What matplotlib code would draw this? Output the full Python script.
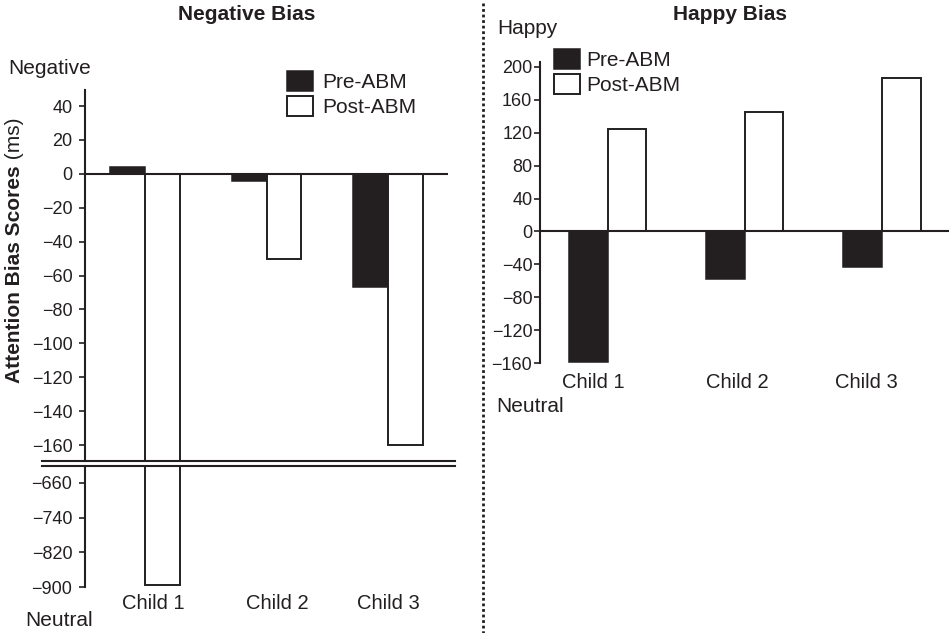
import numpy as np
import matplotlib
matplotlib.use('Agg')
import matplotlib.pyplot as plt
from matplotlib.lines import Line2D
from matplotlib.transforms import ScaledTranslation

plt.rcParams['font.family'] = ['Liberation Sans', 'DejaVu Sans']

# Data
children = ['Child 1', 'Child 2', 'Child 3']
neg_pre = [4, -4, -67]
neg_post = [-896, -50, -160]
happy_pre = [-159, -58, -43]
happy_post = [124, 145, 187]

neg_ticks_up = [40, 20, 0, -20, -40, -60, -80, -100, -120, -140, -160]
neg_ticks_low = [-660, -740, -820, -900]
happy_ticks = [200, 160, 120, 80, 40, 0, -40, -80, -120, -160]

ink = '#231f20'
W, H = 949, 633
fig = plt.figure(figsize=(W / 100, H / 100), dpi=100)


def px_axes(x0, y0, x1, y1):
    # box given in pixels, y measured from the top
    return fig.add_axes([x0 / W, 1 - y1 / H, (x1 - x0) / W, (y1 - y0) / H])


def fig_xy(x, y):
    return x / W, 1 - y / H


def style(ax, lw=1.5):
    for s in ['top', 'right', 'bottom']:
        ax.spines[s].set_visible(False)
    ax.spines['left'].set_linewidth(lw)
    ax.spines['left'].set_color(ink)
    ax.tick_params(axis='y', direction='out', length=4, width=1.2,
                   color=ink, labelcolor=ink, labelsize=13)


def nudge_labels(ax, shifts):
    # the printed category labels sit a little off the bar groups
    for lab, dx in zip(ax.get_xticklabels(), shifts):
        lab.set_transform(lab.get_transform() +
                          ScaledTranslation(dx / 100, 0, fig.dpi_scale_trans))


x = np.arange(len(children))

# ---- Negative bias (broken axis) ----
wl = 0.285
ax_up = px_axes(85, 90, 448, 461)
ax_low = px_axes(85, 466, 448, 587)

for ax in (ax_up, ax_low):
    b_pre = ax.bar(x - wl / 2, neg_pre, wl, color=ink, edgecolor=ink, lw=1.1)
    b_post = ax.bar(x + wl / 2, neg_post, wl, color='white', edgecolor=ink, lw=1.4)
    ax.set_xlim(-0.494, 2.494)
    style(ax)

ax_up.set_ylim(-169.4, 49.5)
ax_up.set_yticks(neg_ticks_up)
ax_up.axhline(0, color=ink, lw=1.5)
ax_up.set_xticks([])
ax_up.tick_params(axis='y', pad=5)

ax_low.set_ylim(-900, -621)
ax_low.set_yticks(neg_ticks_low)
ax_low.set_xticks(x, children)
ax_low.tick_params(axis='x', length=0, pad=5, labelsize=14.5, labelcolor=ink)
ax_low.tick_params(axis='y', pad=5)
nudge_labels(ax_low, [8, 11, 0])

ax_up.legend([b_pre, b_post], ['Pre-ABM', 'Post-ABM'], loc='upper left',
             bbox_to_anchor=fig_xy(287, 71), bbox_transform=fig.transFigure,
             frameon=False, borderpad=0, borderaxespad=0, fontsize=15,
             handlelength=1.25, handleheight=1.1, handletextpad=0.45,
             labelspacing=0.2, labelcolor=ink)

# break lines
for yb in (461, 466):
    fig.add_artist(Line2D([42 / W, 455 / W], [1 - yb / H] * 2,
                          transform=fig.transFigure, color=ink, lw=1.5))

# y label: bold part plus normal "(ms)"
yl = fig.text(*fig_xy(15, 383), 'Attention Bias Scores', rotation=90,
              ha='center', va='bottom', fontsize=15, weight='bold', color=ink)
fig.add_artist(plt.Annotation(' (ms)', xy=(0.5, 1), xycoords=yl, rotation=90,
                              ha='center', va='bottom', fontsize=15, color=ink))

fig.text(*fig_xy(247, 15), 'Negative Bias', ha='center', va='center',
         fontsize=15, weight='bold', color=ink)
fig.text(*fig_xy(8, 68), 'Negative', ha='left', va='center', fontsize=15, color=ink)
fig.text(*fig_xy(25, 620), 'Neutral', ha='left', va='center', fontsize=15, color=ink)

# ---- Happy bias ----
wr = 0.281
ax_h = px_axes(540, 62, 949, 363)
hb_pre = ax_h.bar(x - wr / 2, happy_pre, wr, color=ink, edgecolor=ink, lw=1.1)
hb_post = ax_h.bar(x + wr / 2, happy_post, wr, color='white', edgecolor=ink, lw=1.4)
ax_h.set_xlim(-0.496, 2.489)
ax_h.set_ylim(-160, 206)
style(ax_h)
ax_h.set_yticks(happy_ticks)
ax_h.tick_params(axis='y', pad=1.5)
ax_h.axhline(0, color=ink, lw=1.5)
ax_h.set_xticks(x, children)
ax_h.tick_params(axis='x', length=0, pad=7, labelsize=14.5, labelcolor=ink)
nudge_labels(ax_h, [-15, -8, -16])

ax_h.legend([hb_pre, hb_post], ['Pre-ABM', 'Post-ABM'], loc='upper left',
            bbox_to_anchor=fig_xy(554, 49), bbox_transform=fig.transFigure,
            frameon=False, borderpad=0, borderaxespad=0, fontsize=15,
            handlelength=1.25, handleheight=1.1, handletextpad=0.3,
            labelspacing=0.2, labelcolor=ink)

fig.text(*fig_xy(730, 15), 'Happy Bias', ha='center', va='center',
         fontsize=15, weight='bold', color=ink)
fig.text(*fig_xy(497, 29), 'Happy', ha='left', va='center', fontsize=15, color=ink)
fig.text(*fig_xy(496, 406), 'Neutral', ha='left', va='center', fontsize=15, color=ink)

# dotted separator
fig.add_artist(Line2D([483 / W] * 2, [1 - 3 / H, 0], transform=fig.transFigure,
                      color=ink, lw=2, ls=(0, (1, 1))))

fig.savefig('out.png', dpi=100)
